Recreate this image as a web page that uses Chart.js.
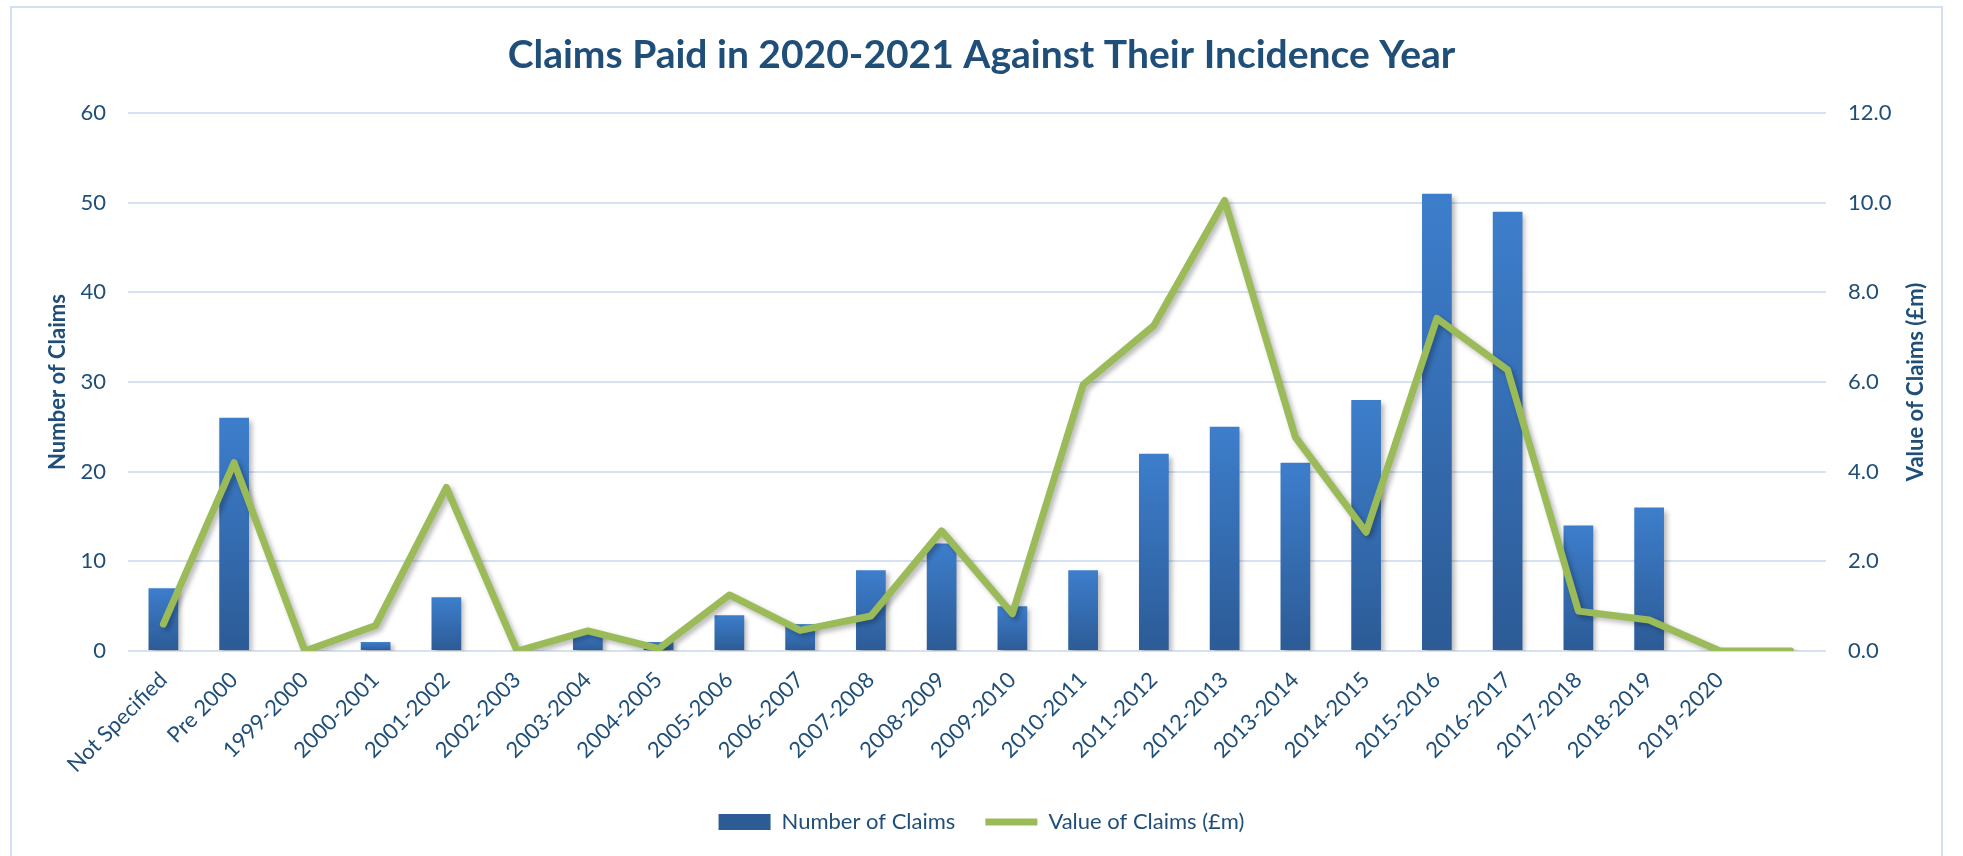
<!DOCTYPE html>
<html>
<head>
<meta charset="utf-8">
<script src="https://cdn.jsdelivr.net/npm/chart.js@4.4.1/dist/chart.umd.min.js"></script>
<style>
  html, body { margin: 0; padding: 0; background: #fff; }
  #wrap { position: relative; width: 1963px; height: 856px; overflow: hidden; }
  #frame { position: absolute; left: 10px; top: 6px; width: 1933px; height: 900px; border: 2px solid #d3e0f1; box-sizing: border-box; }
  canvas { position: absolute; left: 0; top: 0; }
</style>
</head>
<body>
<div id="wrap">
  <div id="frame"></div>
  <canvas id="claimsChart" width="1963" height="856"></canvas>
</div>
<script>
// incidence years (last slot has no label in the original)
const categories = ['Not Specified', 'Pre 2000', '1999-2000', '2000-2001', '2001-2002', '2002-2003',
  '2003-2004', '2004-2005', '2005-2006', '2006-2007', '2007-2008', '2008-2009', '2009-2010',
  '2010-2011', '2011-2012', '2012-2013', '2013-2014', '2014-2015', '2015-2016', '2016-2017',
  '2017-2018', '2018-2019', '2019-2020', ''];

const claimCounts = [7, 26, 0, 1, 6, 0, 2, 1, 4, 3, 9, 12, 5, 9, 22, 25, 21, 28, 51, 49, 14, 16, 0, 0];

const claimValues = [0.6, 4.2, 0.0, 0.57, 3.65, 0.0, 0.45, 0.05, 1.25, 0.46, 0.78, 2.68, 0.83,
  5.94, 7.26, 10.05, 4.77, 2.65, 7.42, 6.27, 0.89, 0.69, 0.0, 0.0];

const countTicks = { min: 0, max: 60, step: 10 };
const valueTicks = { min: 0, max: 12, step: 2 };

const textBlue = '#1f4e79';
const gridBlue = '#d6e2f2';

Chart.defaults.font.family = 'Lato';
Chart.defaults.color = textBlue;

// soft drop shadow like the office chart
const shadowPlugin = {
  id: 'softShadow',
  beforeDatasetDraw(chart) {
    const ctx = chart.ctx;
    ctx.save();
    ctx.shadowColor = 'rgba(0,0,0,0.28)';
    ctx.shadowBlur = 5;
    ctx.shadowOffsetX = 3;
    ctx.shadowOffsetY = 3;
  },
  afterDatasetDraw(chart) {
    chart.ctx.restore();
  }
};

// right axis title reads bottom-to-top in the original
const rightTitle = {
  id: 'rightTitle',
  afterDraw(chart) {
    const ctx = chart.ctx;
    const area = chart.chartArea;
    ctx.save();
    ctx.translate(1916, (area.top + area.bottom) / 2);
    ctx.rotate(-Math.PI / 2);
    ctx.font = 'bold 22px Lato';
    ctx.fillStyle = textBlue;
    ctx.textAlign = 'center';
    ctx.textBaseline = 'middle';
    ctx.fillText('Value of Claims (£m)', 0, 0);
    ctx.restore();
  }
};

function barFill(c) {
  const chart = c.chart;
  const y = chart.scales.y;
  if (!chart.chartArea || !y || c.type !== 'data') return '#3572bd';
  const top = y.getPixelForValue(c.raw);
  const base = y.getPixelForValue(0);
  if (!(base - top > 0.5)) return '#3572bd';
  const g = chart.ctx.createLinearGradient(0, top, 0, base);
  g.addColorStop(0, '#3d7ecc');
  g.addColorStop(1, '#2c5b96');
  return g;
}

var ctx = document.getElementById('claimsChart').getContext('2d');
var chart = new Chart(ctx, {
  type: 'bar',
  data: {
    labels: categories,
    datasets: [{
      type: 'bar',
      label: 'Number of Claims',
      data: claimCounts,
      backgroundColor: barFill,
      borderWidth: 0,
      barPercentage: 0.42,
      categoryPercentage: 1,
      pointStyle: 'rect',
      yAxisID: 'y',
      order: 2
    }, {
      type: 'line',
      label: 'Value of Claims (£m)',
      data: claimValues,
      borderColor: '#9bbb59',
      backgroundColor: '#9bbb59',
      borderWidth: 7,
      borderJoinStyle: 'round',
      borderCapStyle: 'round',
      pointRadius: 0,
      pointHoverRadius: 0,
      pointStyle: 'line',
      tension: 0,
      yAxisID: 'y1',
      order: 1
    }]
  },
  options: {
    responsive: false,
    animation: false,
    layout: { padding: { left: 0, right: 0, top: 0, bottom: 13 } },
    plugins: {
      title: {
        display: true,
        text: 'Claims Paid in 2020-2021 Against Their Incidence Year',
        color: textBlue,
        font: { size: 39, weight: 'bold' },
        padding: { top: 31.6, bottom: 34.6 }
      },
      legend: {
        position: 'bottom',
        labels: {
          usePointStyle: true,
          pointStyleWidth: 52,
          boxHeight: 16,
          padding: 30,
          color: textBlue,
          font: { size: 22 },
          sort: (a, b) => a.datasetIndex - b.datasetIndex
        }
      },
      tooltip: { enabled: false }
    },
    scales: {
      x: {
        grid: { display: false },
        border: { display: false },
        ticks: {
          autoSkip: false,
          minRotation: 45,
          maxRotation: 45,
          padding: 8,
          color: textBlue,
          font: { size: 22 }
        },
        afterFit(scale) { scale.height = 130; }
      },
      y: {
        position: 'left',
        min: countTicks.min,
        max: countTicks.max,
        ticks: { stepSize: countTicks.step, padding: 22, color: textBlue, font: { size: 22 } },
        grid: { color: gridBlue, lineWidth: 2, drawTicks: false },
        border: { display: false },
        title: {
          display: true,
          text: 'Number of Claims',
          color: textBlue,
          font: { size: 22, weight: 'bold' },
          padding: { top: 44.8, bottom: 0 }
        },
        afterFit(scale) { scale.width = 128; }
      },
      y1: {
        position: 'right',
        min: valueTicks.min,
        max: valueTicks.max,
        ticks: {
          stepSize: valueTicks.step,
          padding: 22,
          color: textBlue,
          font: { size: 22 },
          callback: (v) => Number(v).toFixed(1)
        },
        grid: { display: false, drawTicks: false },
        border: { display: false },
        afterFit(scale) { scale.width = 137; }
      }
    }
  },
  plugins: [shadowPlugin, rightTitle]
});
</script>
</body>
</html>
